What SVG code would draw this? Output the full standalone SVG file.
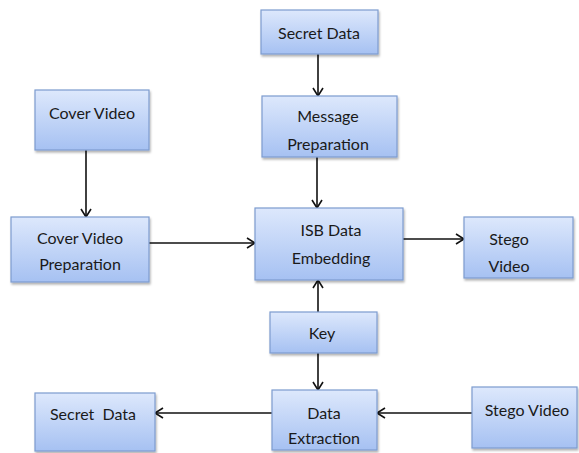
<svg xmlns="http://www.w3.org/2000/svg" width="579" height="453" viewBox="0 0 579 453">
<defs>
<linearGradient id="g" x1="0" y1="0" x2="0" y2="1">
<stop offset="0" stop-color="#dde8fc"/>
<stop offset="1" stop-color="#a6c1f2"/>
</linearGradient>
<filter id="sh" x="-10%" y="-10%" width="130%" height="140%">
<feDropShadow dx="1" dy="2" stdDeviation="1.2" flood-color="#000" flood-opacity="0.3"/>
</filter>
<marker id="ah" markerWidth="12" markerHeight="12" refX="10" refY="6" orient="auto" markerUnits="userSpaceOnUse">
<polyline points="2,1 10,6 2,11" fill="none" stroke="#111" stroke-width="1.6"/>
</marker>
</defs>
<style>
.box{fill:url(#g);stroke:#7d9ccf;stroke-width:1.2;filter:url(#sh)}
.t{font-family:Lato,"Open Sans","Liberation Sans",sans-serif;font-size:16px;fill:#1a1a1a;text-anchor:middle;dominant-baseline:central}
.c{stroke:#111;stroke-width:1.6;fill:none}
</style>
<rect width="579" height="453" fill="#fff"/>
<g id="connectors">
<line class="c" x1="318" y1="54" x2="318" y2="96" marker-end="url(#ah)"/>
<line class="c" x1="317" y1="157" x2="317" y2="208" marker-end="url(#ah)"/>
<line class="c" x1="86" y1="150" x2="86" y2="217" marker-end="url(#ah)"/>
<line class="c" x1="149" y1="243" x2="255" y2="243" marker-end="url(#ah)"/>
<line class="c" x1="403" y1="239" x2="464" y2="239" marker-end="url(#ah)"/>
<line class="c" x1="318" y1="312" x2="318" y2="280" marker-end="url(#ah)"/>
<line class="c" x1="318" y1="353" x2="318" y2="390" marker-end="url(#ah)"/>
<line class="c" x1="272" y1="413" x2="155" y2="413" marker-end="url(#ah)"/>
<line class="c" x1="472" y1="413" x2="377" y2="413" marker-end="url(#ah)"/>
</g>
<g id="secret-data-top"><rect class="box" x="261" y="10" width="117" height="44"/><text class="t" x="319" y="32">Secret Data</text></g>
<g id="message-preparation"><rect class="box" x="262" y="96" width="135" height="61"/><text class="t" x="328" y="115">Message</text><text class="t" x="328" y="143">Preparation</text></g>
<g id="cover-video"><rect class="box" x="35" y="90" width="114" height="60"/><text class="t" x="92" y="112">Cover Video</text></g>
<g id="cover-video-preparation"><rect class="box" x="11" y="217" width="138" height="65"/><text class="t" x="80" y="237">Cover Video</text><text class="t" x="80" y="263">Preparation</text></g>
<g id="isb-data-embedding"><rect class="box" x="255" y="208" width="148" height="72"/><text class="t" x="331" y="229">ISB Data</text><text class="t" x="331" y="257">Embedding</text></g>
<g id="stego-video-top"><rect class="box" x="464" y="217" width="109" height="61"/><text class="t" x="509" y="238">Stego</text><text class="t" x="509" y="265">Video</text></g>
<g id="key"><rect class="box" x="270" y="312" width="107" height="41"/><text class="t" x="322" y="332">Key</text></g>
<g id="data-extraction"><rect class="box" x="272" y="390" width="105" height="60"/><text class="t" x="324" y="412">Data</text><text class="t" x="324" y="437">Extraction</text></g>
<g id="secret-data-bottom"><rect class="box" x="35" y="393" width="120" height="58"/><text class="t" x="93" y="413" xml:space="preserve">Secret  Data</text></g>
<g id="stego-video-bottom"><rect class="box" x="472" y="387" width="105" height="61"/><text class="t" x="527" y="409">Stego Video</text></g>
</svg>
